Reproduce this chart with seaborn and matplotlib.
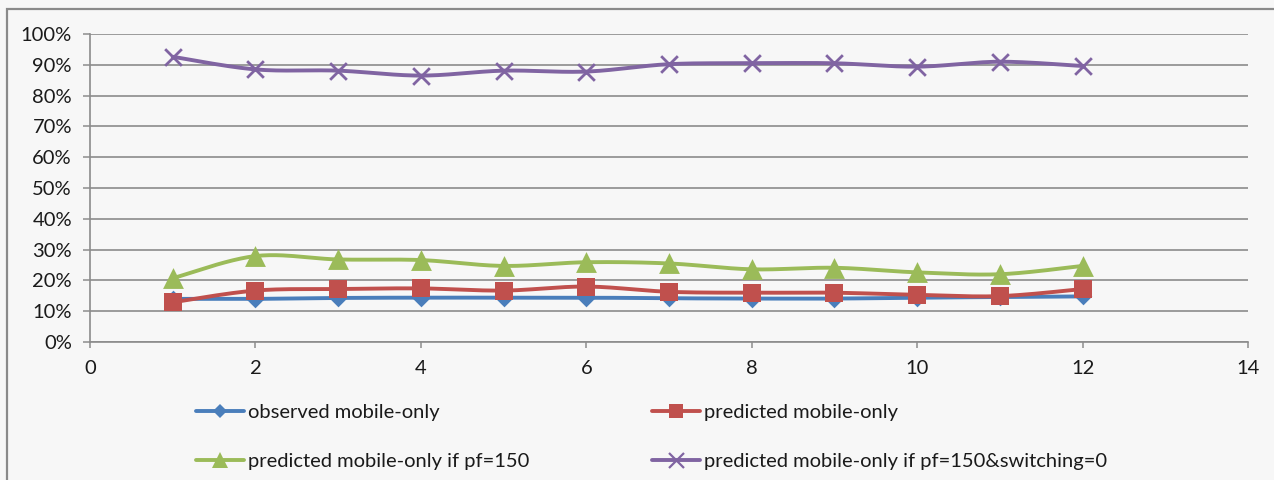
import numpy as np
import pandas as pd
import matplotlib
matplotlib.use("Agg")
import matplotlib.pyplot as plt
from matplotlib.lines import Line2D
from matplotlib.patches import Rectangle
from matplotlib.ticker import FuncFormatter, MultipleLocator
import seaborn as sns

# ---- data -------------------------------------------------------------
months = [1, 2, 3, 4, 5, 6, 7, 8, 9, 10, 11, 12]
observed = [14.0, 14.0, 14.3, 14.4, 14.4, 14.4, 14.2, 14.1, 14.1, 14.4, 14.6, 14.8]
predicted = [12.9, 16.7, 17.2, 17.4, 16.7, 18.0, 16.3, 16.0, 16.0, 15.3, 14.9, 17.2]
predicted_pf150 = [20.7, 27.9, 26.8, 26.6, 24.7, 25.9, 25.5, 23.6, 24.1, 22.6, 22.0, 24.7]
predicted_pf150_sw0 = [92.6, 88.5, 88.1, 86.5, 88.1, 87.8, 90.2, 90.5, 90.5, 89.4, 91.0, 89.6]

series_names = [
    "observed mobile-only",
    "predicted mobile-only",
    "predicted mobile-only if pf=150",
    "predicted mobile-only if pf=150&switching=0",
]
series_values = [observed, predicted, predicted_pf150, predicted_pf150_sw0]

# ---- style ------------------------------------------------------------
colors = ["#4A7EBB", "#C0504D", "#9BBB59", "#8064A2"]
markers = ["D", "s", "^", "x"]
marker_sizes = [9, 13.5, 15, 12]

sns.set_style("white")
plt.rcParams["font.family"] = ["Lato", "DejaVu Sans"]
plt.rcParams["font.size"] = 14.5
BG = "#F7F7F7"
GRID = "#8C8C8C"
TEXT = "#1A1A1A"


def smooth(xs, ys, n=24):
    """Catmull-Rom curve through the points, like a smoothed line chart."""
    xs = np.asarray(xs, float)
    ys = np.asarray(ys, float)
    px = np.concatenate([[xs[0]], xs, [xs[-1]]])
    py = np.concatenate([[ys[0]], ys, [ys[-1]]])
    out_x, out_y = [], []
    t = np.linspace(0, 1, n, endpoint=False)
    for i in range(1, len(px) - 2):
        for arr, out in ((px, out_x), (py, out_y)):
            p0, p1, p2, p3 = arr[i - 1], arr[i], arr[i + 1], arr[i + 2]
            c1 = p1 + (p2 - p0) / 6.0
            c2 = p2 - (p3 - p1) / 6.0
            out.extend((1 - t) ** 3 * p1 + 3 * (1 - t) ** 2 * t * c1
                       + 3 * (1 - t) * t ** 2 * c2 + t ** 3 * p2)
    out_x.append(xs[-1])
    out_y.append(ys[-1])
    return np.array(out_x), np.array(out_y)


fig = plt.figure(figsize=(12.74, 4.8), dpi=100, facecolor=BG)
ax = fig.add_axes([90 / 1274, 1 - 342 / 480, (1248 - 90) / 1274, (342 - 34) / 480])
ax.set_facecolor(BG)

# chart border
fig.patches.append(Rectangle((7 / 1274, -0.1), 1.2, 1 - 9 / 480 + 0.1,
                             transform=fig.transFigure, fill=False,
                             edgecolor="#8A8A8A", linewidth=1.6, zorder=0))

for name, vals, c, m, ms in zip(series_names, series_values, colors, markers, marker_sizes):
    sx, sy = smooth(months, vals)
    curve = pd.DataFrame({"x": sx, "y": sy})
    sns.lineplot(data=curve, x="x", y="y", ax=ax, color=c, linewidth=2.8,
                 sort=False, estimator=None, zorder=3)
    pts = pd.DataFrame({"x": months, "y": vals})
    if m == "x":
        sns.scatterplot(data=pts, x="x", y="y", ax=ax, marker="x", s=ms ** 2,
                        color=c, linewidth=2.0, zorder=4)
    else:
        sns.scatterplot(data=pts, x="x", y="y", ax=ax, marker=m, s=ms ** 2,
                        color=c, edgecolor=c, linewidth=0, zorder=4)

ax.set_xlim(0, 14)
ax.set_ylim(0, 100)
ax.xaxis.set_major_locator(MultipleLocator(2))
ax.yaxis.set_major_locator(MultipleLocator(10))
ax.yaxis.set_major_formatter(FuncFormatter(lambda v, _: f"{v:.0f}%"))
ax.set_xlabel("")
ax.set_ylabel("")

ax.grid(axis="y", color=GRID, linewidth=1.2)
ax.grid(axis="x", visible=False)
ax.set_axisbelow(True)
for side in ("top", "right"):
    ax.spines[side].set_visible(False)
for side in ("left", "bottom"):
    ax.spines[side].set_color(GRID)
    ax.spines[side].set_linewidth(1.2)
ax.tick_params(axis="y", which="major", length=5, width=1.1, color=GRID,
               pad=8, labelcolor=TEXT, left=True)
ax.tick_params(axis="x", which="major", length=4, width=1.1, color=GRID,
               pad=9, labelcolor=TEXT, bottom=True)

handles = [
    Line2D([], [], color=c, linewidth=2.8, marker=m,
           markersize=ms * 0.75 if m != "x" else ms * 0.9,
           markeredgewidth=1.6 if m == "x" else 0, markerfacecolor=c,
           markeredgecolor=c)
    for c, m, ms in zip(colors, markers, marker_sizes)
]
# legend fills column by column; order so rows read left to right
order = [0, 2, 1, 3]
fig.legend([handles[i] for i in order], [series_names[i] for i in order],
           ncol=2, frameon=False,
           loc="upper left", bbox_to_anchor=(196 / 1274, 1 - 404 / 480),
           borderpad=0, borderaxespad=0, handlelength=2.4, handletextpad=0.2,
           columnspacing=6.05, labelspacing=1.6, labelcolor=TEXT, fontsize=14.5)

fig.savefig("out.png", dpi=100, facecolor=BG)
